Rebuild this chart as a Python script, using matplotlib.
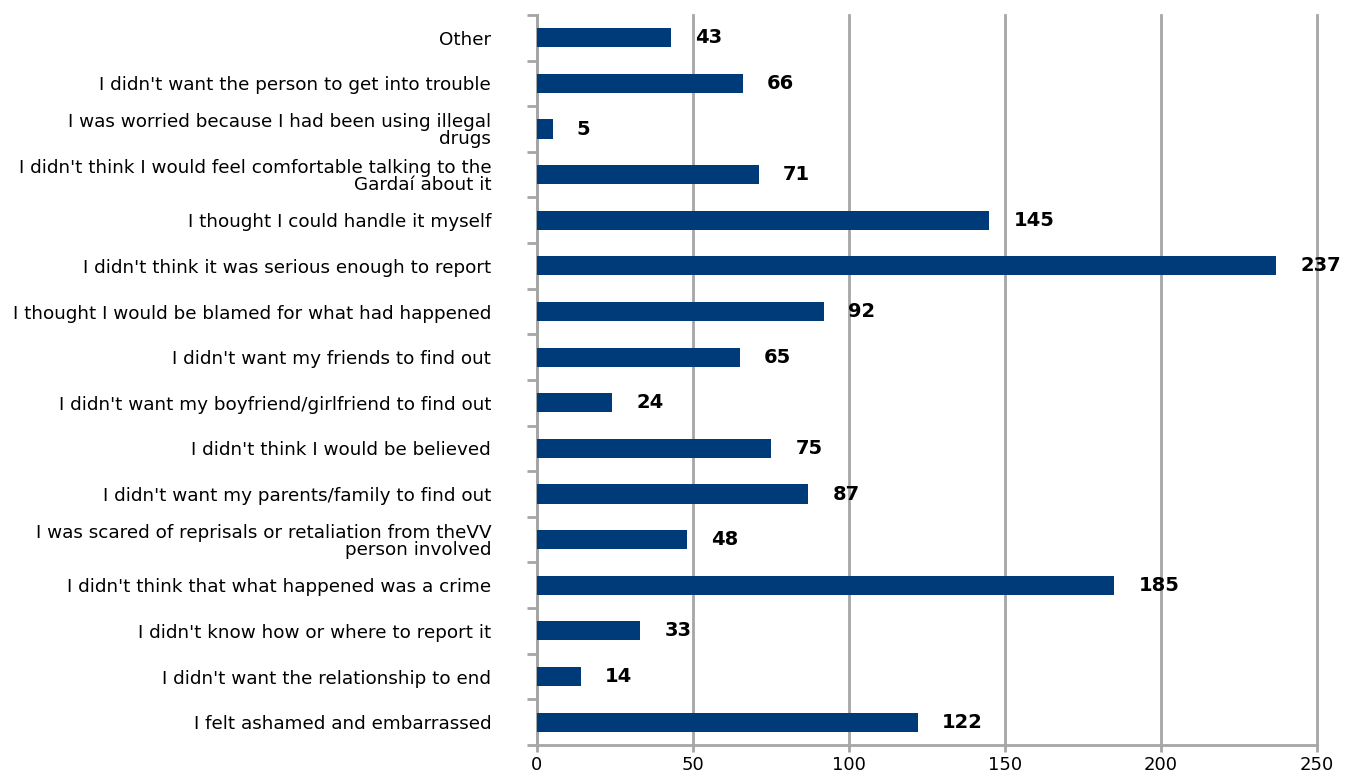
import numpy as np
import matplotlib
matplotlib.use("Agg")
import matplotlib.pyplot as plt

# categories from top to bottom as in the picture
labels = [
    "Other",
    "I didn't want the person to get into trouble",
    "I was worried because I had been using illegal\ndrugs",
    "I didn't think I would feel comfortable talking to the\nGardaí about it",
    "I thought I could handle it myself",
    "I didn't think it was serious enough to report",
    "I thought I would be blamed for what had happened",
    "I didn't want my friends to find out",
    "I didn't want my boyfriend/girlfriend to find out",
    "I didn't think I would be believed",
    "I didn't want my parents/family to find out",
    "I was scared of reprisals or retaliation from theVV\nperson involved",
    "I didn't think that what happened was a crime",
    "I didn't know how or where to report it",
    "I didn't want the relationship to end",
    "I felt ashamed and embarrassed",
]
values = [43, 66, 5, 71, 145, 237, 92, 65, 24, 75, 87, 48, 185, 33, 14, 122]
xticks = [0, 50, 100, 150, 200, 250]

plt.rcParams['font.family'] = ['DejaVu Sans']

fig = plt.figure(figsize=(13.54, 7.76), dpi=100)
ax = fig.add_axes([0.3966, 0.04, 0.5761, 0.9407])

n = len(labels)
y = np.arange(n)
ax.barh(y, values, height=0.42, color='#003b79', zorder=3)

for yi, v in zip(y, values):
    ax.annotate(str(v), (v, yi), xytext=(17.5, 0), textcoords='offset points',
                va='center', ha='left', fontsize=14, fontweight='bold',
                color='black')

ax.set_ylim(n - 0.5, -0.5)
ax.set_xlim(0, 250)
ax.set_xticks(xticks)
ax.set_xticklabels([str(t) for t in xticks], fontsize=13)

# labels centred on bars, tick marks between categories
ax.set_yticks(y)
ax.set_yticklabels(labels, fontsize=13.2, linespacing=0.92)
ax.tick_params(axis='y', which='major', length=0, pad=33)
ax.set_yticks(np.arange(-0.5, n, 1), minor=True)
ax.tick_params(axis='y', which='minor', length=7, width=2, color='#a6a6a6')
ax.tick_params(axis='x', length=5, width=2, color='#a6a6a6', pad=3)

ax.grid(axis='x', color='#a6a6a6', linewidth=2, zorder=0)
for gl in ax.get_xgridlines():
    gl.set_clip_on(False)
for s in ['top', 'right']:
    ax.spines[s].set_visible(False)
for s in ['left', 'bottom']:
    ax.spines[s].set_color('#a6a6a6')
    ax.spines[s].set_linewidth(2)

fig.savefig('out.png', dpi=100)
